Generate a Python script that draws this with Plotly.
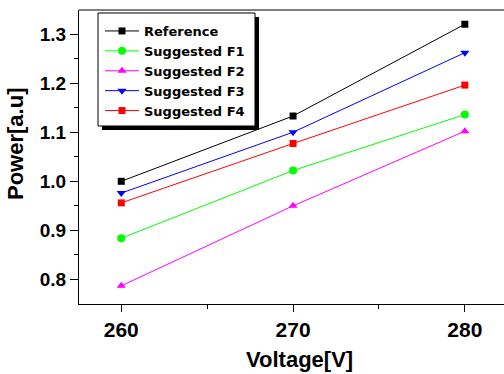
import plotly.graph_objects as go

voltage = [260, 270, 280]
reference = [1.000, 1.133, 1.320]
f1 = [0.884, 1.022, 1.136]
f2 = [0.787, 0.950, 1.102]
f3 = [0.976, 1.100, 1.262]
f4 = [0.956, 1.077, 1.196]

series = [
    ("Reference", reference, "#000000", "square", 7),
    ("Suggested F1", f1, "#00ff00", "circle", 8),
    ("Suggested F2", f2, "#ff00ff", "triangle-up", 8),
    ("Suggested F3", f3, "#0000ff", "triangle-down", 8),
    ("Suggested F4", f4, "#ff0000", "square", 7),
]

W, H = 504, 374
L, R, T, B = 79, 0, 10, 374 - 304
pw, ph = W - L - R, H - T - B

def px(x):
    return (x - L) / pw

def py(y):
    return (H - B - y) / ph

fig = go.Figure()
for name, vals, color, sym, size in series:
    fig.add_trace(go.Scatter(
        x=voltage, y=vals, name=name, mode="lines+markers",
        line=dict(color=color, width=1),
        marker=dict(symbol=sym, size=size, color=color),
    ))

FONT = "Liberation Sans, Arial, sans-serif"

fig.update_layout(
    width=W, height=H,
    margin=dict(l=L, r=R, t=T, b=B, autoexpand=False),
    paper_bgcolor="white", plot_bgcolor="white",
    font=dict(family=FONT, color="black"),
    showlegend=True,
    legend=dict(
        x=px(100), y=py(16), xanchor="left", yanchor="top",
        bgcolor="rgba(0,0,0,0)", borderwidth=0,
        font=dict(size=13, family="DejaVu Sans, sans-serif", color="black", weight="bold"),
        tracegroupgap=0, itemwidth=34,
    ),
    xaxis=dict(
        range=[257.54, 282.28], tickvals=[260, 270, 280],
        ticks="outside", ticklen=7, tickwidth=1, tickcolor="black",
        showline=True, linecolor="black", linewidth=1, mirror=False,
        showgrid=False, zeroline=False,
        tickfont=dict(size=21, family=FONT, weight="bold"),
        minor=dict(tickvals=[265, 275], ticks="outside", ticklen=4, tickcolor="black", showgrid=False),
    ),
    yaxis=dict(
        range=[0.75, 1.349], tickvals=[0.8, 0.9, 1.0, 1.1, 1.2, 1.3],
        ticktext=["0.8", "0.9", "1.0", "1.1", "1.2", "1.3"],
        ticks="outside", ticklen=8, tickwidth=1, tickcolor="black",
        showline=True, linecolor="black", linewidth=1, mirror=False,
        showgrid=False, zeroline=False,
        tickfont=dict(size=19, family=FONT, weight="bold"),
        minor=dict(tickvals=[0.85, 0.95, 1.05, 1.15, 1.25], ticks="outside", ticklen=4, tickcolor="black", showgrid=False),
    ),
    shapes=[
        dict(type="line", xref="paper", yref="paper", layer="above",
             x0=0, x1=1, y0=1, y1=1, line=dict(color="black", width=1)),
        dict(type="rect", xref="paper", yref="paper", layer="above",
             x0=px(102), x1=px(259), y0=py(17), y1=py(130),
             fillcolor="black", line=dict(width=0)),
        dict(type="rect", xref="paper", yref="paper", layer="above",
             x0=px(98), x1=px(255), y0=py(13), y1=py(126),
             fillcolor="white", line=dict(color="black", width=1)),
    ],
    annotations=[
        dict(text="Voltage[V]", xref="paper", yref="paper", x=px(299), y=py(359),
             xanchor="center", yanchor="middle", showarrow=False,
             font=dict(size=22, family=FONT, weight="bold")),
        dict(text="Power[a.u]", xref="paper", yref="paper", x=px(16), y=py(144),
             xanchor="center", yanchor="middle", showarrow=False, textangle=-90,
             font=dict(size=22, family=FONT, weight="bold")),
    ],
)

fig.write_html(
    "out.html",
    config={"displayModeBar": False},
    post_script="document.body.style.margin='0';document.body.style.overflow='hidden';",
)
